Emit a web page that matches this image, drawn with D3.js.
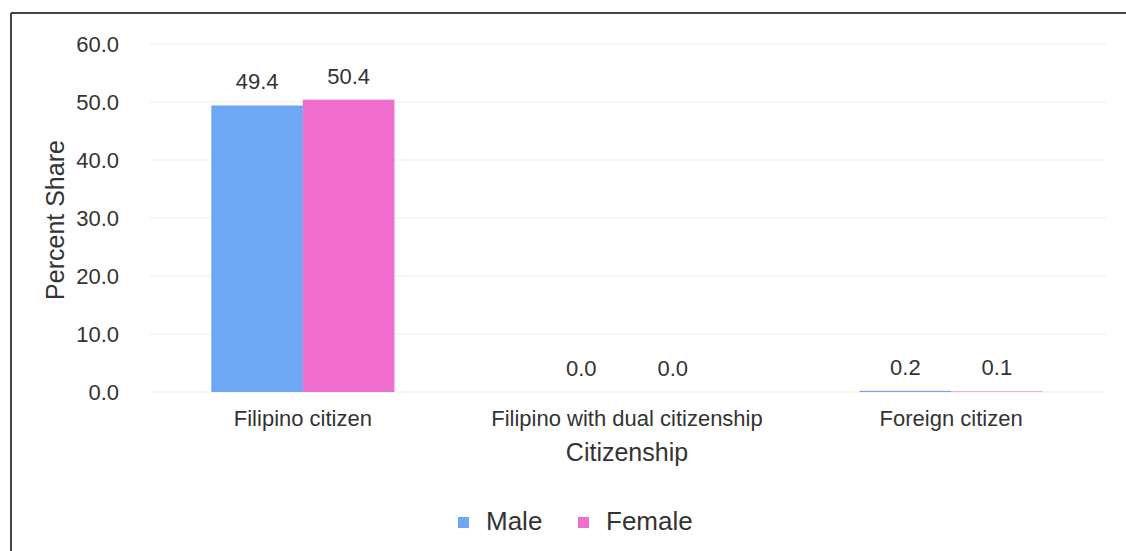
<!DOCTYPE html>
<html>
<head>
<meta charset="utf-8">
<script src="https://cdn.jsdelivr.net/npm/d3@7"></script>
<style>
  html, body { margin: 0; padding: 0; background: #fff; }
  svg { display: block; font-family: "Liberation Sans", Arial, sans-serif; }
</style>
</head>
<body>
<svg id="chart" width="1126" height="551"></svg>
<script>
// ── Data ────────────────────────────────────────────────────────────────
const categories = ["Filipino citizen", "Filipino with dual citizenship", "Foreign citizen"];
const seriesNames = ["Male", "Female"];
const maleValues = [49.4, 0.0, 0.2];
const femaleValues = [50.4, 0.0, 0.1];
const yTicks = [0, 10, 20, 30, 40, 50, 60];
const colors = { Male: "#6ea8f4", Female: "#f06fce" };

const rows = categories.map(function (c, i) {
  return { cat: c, Male: maleValues[i], Female: femaleValues[i] };
});

// ── Layout ──────────────────────────────────────────────────────────────
const svg = d3.select("#chart");
const M = { left: 140, right: 12, top: 44, bottom: 159 };
const W = 1126, H = 551;
const iw = W - M.left - M.right, ih = H - M.top - M.bottom;
const FONT = "Liberation Sans, Arial, sans-serif";
const TXT = "#333";

// scan frame: top + left rule
svg.append("line").attr("x1", 11).attr("y1", 13).attr("x2", W).attr("y2", 13)
  .attr("stroke", "#444").attr("stroke-width", 2);
svg.append("line").attr("x1", 11).attr("y1", 13).attr("x2", 11).attr("y2", H)
  .attr("stroke", "#444").attr("stroke-width", 2);

const g = svg.append("g").attr("transform", `translate(${M.left},${M.top})`);

const x0 = d3.scaleBand().domain(categories).range([0, iw]).paddingInner(0.435).paddingOuter(0.22);
const x1 = d3.scaleBand().domain(seriesNames).range([0, x0.bandwidth()]).padding(0);
const y = d3.scaleLinear().domain([0, 60]).range([ih, 0]);

// gridlines
g.append("g").selectAll("line").data(yTicks).join("line")
  .attr("x1", 10).attr("x2", iw - 8)
  .attr("y1", d => y(d)).attr("y2", d => y(d))
  .attr("stroke", "#ededed").attr("stroke-width", 1);

// y tick labels
const yAxis = g.append("g").call(d3.axisLeft(y).tickValues(yTicks).tickFormat(d3.format(".1f")).tickSize(0).tickPadding(21));
yAxis.select(".domain").remove();
yAxis.attr("font-size", null).attr("font-family", null);
yAxis.selectAll("text").attr("font-size", 22).attr("fill", TXT).attr("font-family", FONT);

// bars
const groups = g.append("g").selectAll("g").data(rows).join("g")
  .attr("transform", d => `translate(${x0(d.cat)},0)`);

groups.selectAll("rect").data(d => seriesNames.map(k => ({ key: k, value: d[k] }))).join("rect")
  .attr("x", d => x1(d.key))
  .attr("width", x1.bandwidth())
  .attr("y", d => y(d.value))
  .attr("height", d => ih - y(d.value))
  .attr("fill", d => colors[d.key]);

// value labels
groups.selectAll("text.val").data(d => seriesNames.map(k => ({ key: k, value: d[k] }))).join("text")
  .attr("class", "val")
  .attr("x", d => x1(d.key) + x1.bandwidth() / 2)
  .attr("y", d => y(d.value) - 16)
  .attr("text-anchor", "middle")
  .attr("font-size", 22)
  .attr("font-family", FONT)
  .attr("fill", TXT)
  .text(d => d3.format(".1f")(d.value));

// x axis labels
const xAxis = g.append("g").attr("transform", `translate(0,${ih})`)
  .call(d3.axisBottom(x0).tickSize(0).tickPadding(18));
xAxis.select(".domain").remove();
xAxis.attr("font-size", null).attr("font-family", null);
xAxis.selectAll("text").attr("font-size", 22).attr("fill", TXT).attr("font-family", FONT);

// axis titles
svg.append("text")
  .attr("x", M.left + x0("Filipino with dual citizenship") + x0.bandwidth() / 2)
  .attr("y", 461)
  .attr("text-anchor", "middle")
  .attr("font-size", 25)
  .attr("font-family", FONT)
  .attr("fill", TXT)
  .text("Citizenship");

svg.append("text")
  .attr("transform", "translate(64,220) rotate(-90)")
  .attr("text-anchor", "middle")
  .attr("font-size", 25)
  .attr("font-family", FONT)
  .attr("fill", TXT)
  .text("Percent Share");

// legend
const legend = svg.append("g").attr("transform", "translate(458,530)");
const legendX = [0, 120];
seriesNames.forEach(function (s, i) {
  const lg = legend.append("g").attr("transform", `translate(${legendX[i]},0)`);
  lg.append("rect").attr("x", 0).attr("y", -13).attr("width", 11).attr("height", 11)
    .attr("fill", colors[s]);
  lg.append("text").attr("x", 28).attr("y", 0)
    .attr("font-size", 26).attr("font-family", FONT).attr("fill", TXT).text(s);
});
</script>
</body>
</html>
